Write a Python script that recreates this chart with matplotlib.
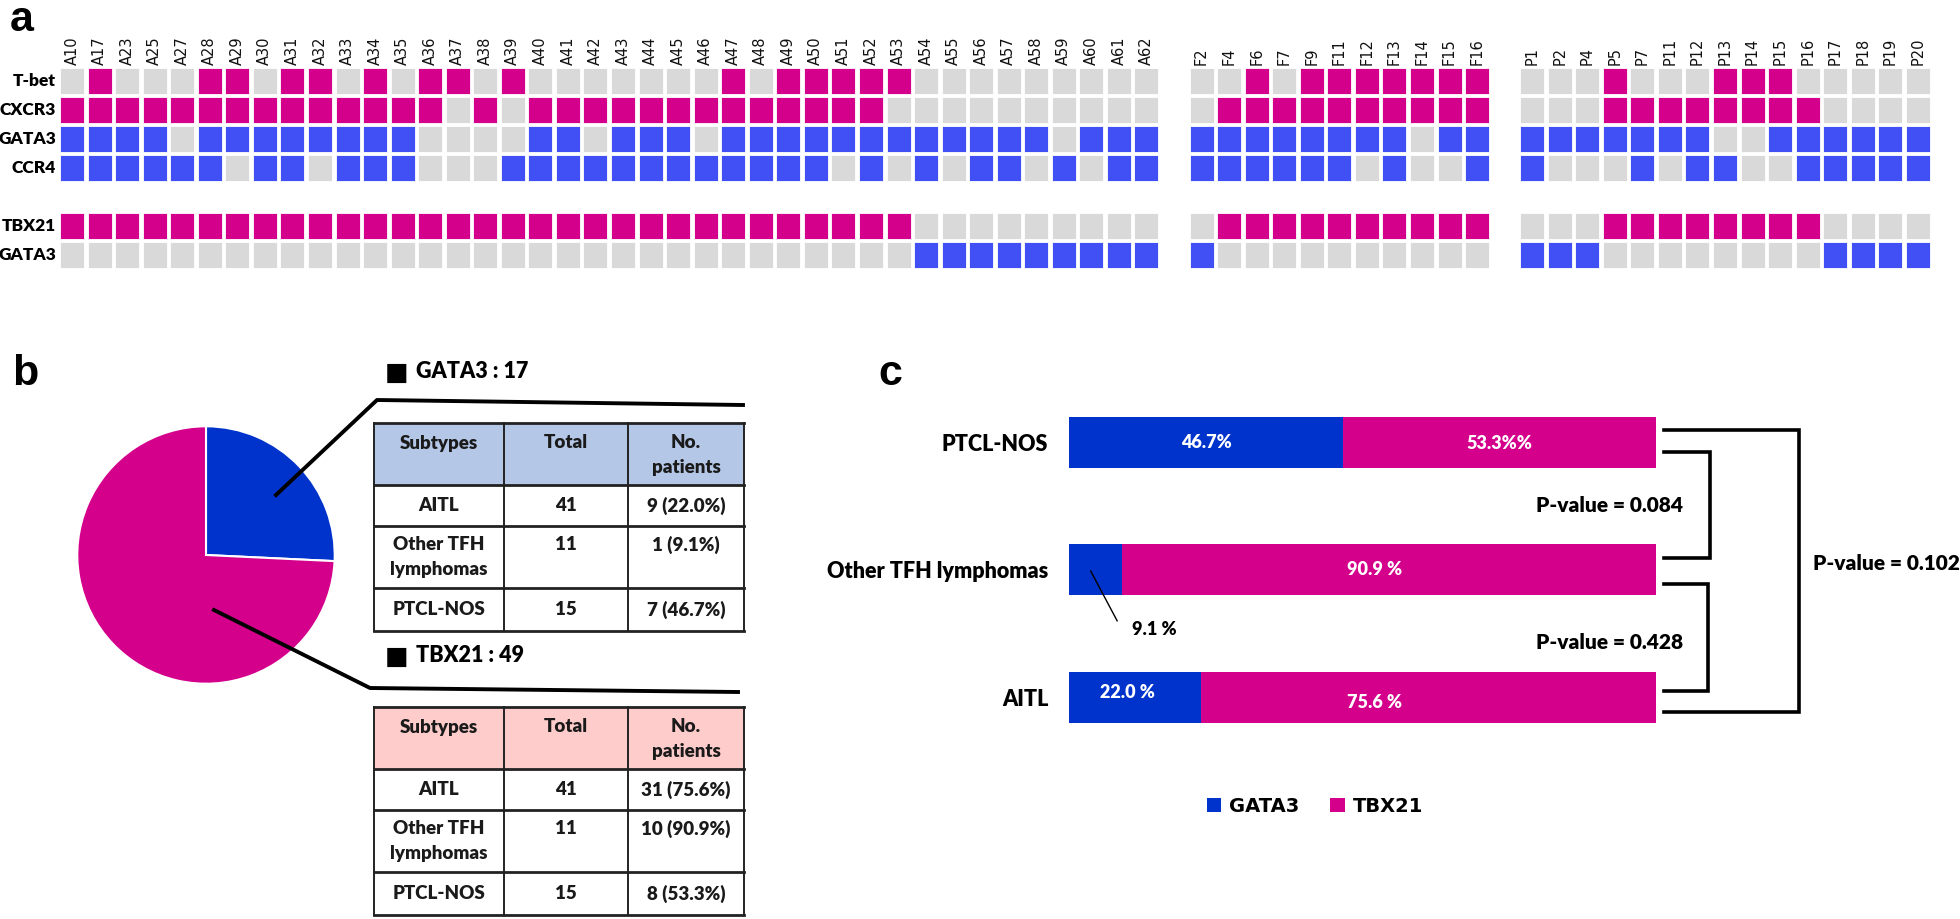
import numpy as np
import matplotlib
matplotlib.use("Agg")
import matplotlib.pyplot as plt
from matplotlib.patches import Rectangle

W, H = 1960, 919

# ---- panel a data (1 = positive) ----
aitl_ids = ["A10", "A17", "A23", "A25", "A27", "A28", "A29", "A30", "A31", "A32",
            "A33", "A34", "A35", "A36", "A37", "A38", "A39", "A40", "A41", "A42",
            "A43", "A44", "A45", "A46", "A47", "A48", "A49", "A50", "A51", "A52",
            "A53", "A54", "A55", "A56", "A57", "A58", "A59", "A60", "A61", "A62"]
tfh_ids = ["F2", "F4", "F6", "F7", "F9", "F11", "F12", "F13", "F14", "F15", "F16"]
ptcl_ids = ["P1", "P2", "P4", "P5", "P7", "P11", "P12", "P13", "P14", "P15",
            "P16", "P17", "P18", "P19", "P20"]

tbet = ([0,1,0,0,0,1,1,0,1,1, 0,1,0,1,1,0,1,0,0,0, 0,0,0,0,1,0,1,1,1,1, 1,0,0,0,0,0,0,0,0,0]
        + [0,0,1,0,1,1,1,1,1,1,1]
        + [0,0,0,1,0,0,0,1,1,1,0,0,0,0,0])
cxcr3 = ([1,1,1,1,1,1,1,1,1,1, 1,1,1,1,0,1,0,1,1,1, 1,1,1,1,1,1,1,1,1,1, 0,0,0,0,0,0,0,0,0,0]
         + [0,1,1,1,1,1,1,1,1,1,1]
         + [0,0,0,1,1,1,1,1,1,1,1,0,0,0,0])
gata3_ihc = ([1,1,1,1,0,1,1,1,1,1, 1,1,1,0,0,0,0,1,1,0, 1,1,1,0,1,1,1,1,1,1, 1,1,1,1,1,1,0,1,1,1]
             + [1,1,1,1,1,1,1,1,0,1,1]
             + [1,1,1,1,1,1,1,0,0,1,1,1,1,1,1])
ccr4 = ([1,1,1,1,1,1,0,1,1,0, 1,1,1,0,0,0,1,1,1,1, 1,1,1,1,1,1,1,1,0,1, 0,1,0,1,1,0,1,0,1,1]
        + [1,1,1,1,1,1,0,1,0,0,1]
        + [1,0,0,0,1,0,1,1,0,0,1,1,1,1,1])
tbx21_grp = ([1]*31 + [0]*9
             + [0,1,1,1,1,1,1,1,1,1,1]
             + [0,0,0,1,1,1,1,1,1,1,1,0,0,0,0])
gata3_grp = ([0]*31 + [1]*9
             + [1,0,0,0,0,0,0,0,0,0,0]
             + [1,1,1,0,0,0,0,0,0,0,0,1,1,1,1])

row_names = ["T-bet", "CXCR3", "GATA3", "CCR4", "TBX21", "GATA3"]
row_values = [tbet, cxcr3, gata3_ihc, ccr4, tbx21_grp, gata3_grp]

# ---- panel b data ----
pie_counts = [17, 49]  # GATA3, TBX21
subtypes = ["AITL", "Other TFH\nlymphomas", "PTCL-NOS"]
totals = [41, 11, 15]
gata3_patients = ["9 (22.0%)", "1 (9.1%)", "7 (46.7%)"]
tbx21_patients = ["31 (75.6%)", "10 (90.9%)", "8 (53.3%)"]

# ---- panel c data ----
bar_cats = ["AITL", "Other TFH lymphomas", "PTCL-NOS"]
gata3_pct = [22.0, 9.1, 46.7]
tbx21_pct = [75.6, 90.9, 53.3]
gata3_lbl = ["22.0 %", "9.1 %", "46.7%"]
tbx21_lbl = ["75.6 %", "90.9 %", "53.3%%"]
p_values = ["0.084", "0.428", "0.102"]

PINK = "#D4008C"
BLUE_HM = "#4150F5"
GREY = "#D9D9D9"
BLUE = "#0033CC"
LATO = ["Lato", "DejaVu Sans"]
WT = "heavy"

fig = plt.figure(figsize=(W / 100, H / 100), dpi=100)


def px_axes(x0, y0, x1, y1):
    return fig.add_axes([x0 / W, 1 - y1 / H, (x1 - x0) / W, (y1 - y0) / H])


# ================= panel a: heatmap =================
pitch_x, pitch_y = 27.55, 29.0
ha = px_axes(60, 68, 60 + 68 * pitch_x, 68 + 7 * pitch_y)
ha.set_xlim(0, 68)
ha.set_ylim(7, 0)
ha.axis("off")

cols, labels = [], []
start = 0
for ids in [aitl_ids, tfh_ids, ptcl_ids]:
    cols += list(range(start, start + len(ids)))
    labels += ids
    start += len(ids) + 1

cw, ch = 24 / pitch_x, 26 / pitch_y
row_pos = [0, 1, 2, 3, 5, 6]
row_on = [PINK, PINK, BLUE_HM, BLUE_HM, PINK, BLUE_HM]
for r, name, vals, on in zip(row_pos, row_names, row_values, row_on):
    for c, v in zip(cols, vals):
        ha.add_patch(Rectangle((c, r), cw, ch, facecolor=on if v else GREY,
                               edgecolor="white", linewidth=0.6))
    ha.text(-0.14, r + ch / 2, name, ha="right", va="center", fontsize=12.5,
            fontweight=WT, family=LATO)
for c, lab in zip(cols, labels):
    ha.text(c + cw / 2, -0.12, lab, rotation=90, ha="center", va="bottom",
            fontsize=10.5, family="DejaVu Sans", color="#111111")

# overlay for letters, leader lines and tables
ov = px_axes(0, 0, W, H)
ov.set_xlim(0, W)
ov.set_ylim(H, 0)
ov.axis("off")
ov.set_zorder(5)

for txt, x, y in [("a", 10, 31), ("b", 12, 385), ("c", 878, 385)]:
    ov.text(x, y, txt, fontsize=31, fontweight="bold", family="Liberation Sans",
            va="baseline")

# ================= panel b: pie + tables =================
pa = px_axes(76, 425, 336, 685)
pa.pie(pie_counts, colors=[BLUE, PINK], startangle=90, counterclock=False,
       wedgeprops=dict(edgecolor="white", linewidth=1.5))
pa.set_xlim(-1.01, 1.01)
pa.set_ylim(-1.01, 1.01)

ov.plot([276, 377, 743], [495, 400, 405], color="black", lw=2.8)
ov.plot([214, 370, 738], [610, 688, 692], color="black", lw=2.8)

col_edges = [374, 504, 628, 744]
row_h = [62, 41, 62, 43]
col_mid = [(a + b) / 2 for a, b in zip(col_edges[:-1], col_edges[1:])]


def draw_table(top, head_color, counts, title):
    ov.text(385, top - 50, "■", va="center", ha="left", fontsize=18,
            family="DejaVu Sans")
    ov.text(416, top - 51, title, va="center", fontsize=15.5,
            fontweight=WT, family=LATO)
    ov.add_patch(Rectangle((col_edges[0], top), col_edges[-1] - col_edges[0],
                           row_h[0], facecolor=head_color, edgecolor="none"))
    edges = np.cumsum([top] + row_h)
    for y in edges:
        ov.plot([col_edges[0], col_edges[-1]], [y, y], color="#222222", lw=2.0)
    for x in col_edges:
        ov.plot([x, x], [edges[0], edges[-1]], color="#222222", lw=1.4)
    kw = dict(ha="center", va="center", fontsize=13.5, fontweight=WT,
              family=LATO, color="#1a1a1a")
    ov.text(col_mid[0], top + 20, "Subtypes", **kw)
    ov.text(col_mid[1], top + 20, "Total", **kw)
    ov.text(col_mid[2], top + 20, "No.", **kw)
    ov.text(col_mid[2], top + 44, "patients", **kw)
    for i, (sub, tot, n) in enumerate(zip(subtypes, totals, counts)):
        rt, rb = edges[i + 1], edges[i + 2]
        lines = sub.split("\n")
        if len(lines) > 1:
            ov.text(col_mid[0], rt + 19, lines[0], **kw)
            ov.text(col_mid[0], rt + 44, lines[1], **kw)
            y = rt + 19
        else:
            y = (rt + rb) / 2
            ov.text(col_mid[0], y, sub, **kw)
        ov.text(col_mid[1], y, str(tot), **kw)
        ov.text(col_mid[2], y, n, **kw)


draw_table(423, "#B4C7E7", gata3_patients, "GATA3 : %d" % pie_counts[0])
draw_table(707, "#FFCCCC", tbx21_patients, "TBX21 : %d" % pie_counts[1])

# ================= panel c: stacked bars =================
ca = px_axes(1069, 378.25, 1656, 761.25)
ypos = np.arange(len(bar_cats))
g = np.array(gata3_pct)
t = np.array(tbx21_pct)
g_share = g / (g + t) * 100
t_share = t / (g + t) * 100
bg = ca.barh(ypos, g_share, height=0.4, color=BLUE)
bt = ca.barh(ypos, t_share, left=g_share, height=0.4, color=PINK)
ca.set_xlim(0, 100)
ca.set_ylim(-0.5, 2.5)
ca.set_yticks(ypos, labels=bar_cats)
for lab in ca.get_yticklabels():
    lab.set_fontsize(15.5)
    lab.set_fontweight(WT)
    lab.set_family(LATO)
ca.tick_params(axis="y", length=0, pad=15)
ca.set_xticks([])
for s in ca.spines.values():
    s.set_visible(False)

wk = dict(color="white", fontsize=13, fontweight=WT, family=LATO, va="center")
# label positions (layout)
ca.text(10.0, ypos[0] + 0.04, gata3_lbl[0], ha="center", **wk)
ca.text(47.3, ypos[0] - 0.04, tbx21_lbl[0], ha="left", **wk)
ca.text(47.3, ypos[1], tbx21_lbl[1], ha="left", **wk)
ca.text(g_share[2] / 2, ypos[2], gata3_lbl[2], ha="center", **wk)
ca.text(g_share[2] + t_share[2] / 2, ypos[2] - 0.01, tbx21_lbl[2], ha="center", **wk)
ca.plot([3.7, 8.2], [0.99, 0.6], color="black", lw=1, clip_on=False)
ca.text(10.8, 0.53, gata3_lbl[1], ha="left", va="center", fontsize=13,
        fontweight=WT, family=LATO)

bk = dict(color="black", lw=2.6, clip_on=False, solid_joinstyle="miter")
ca.plot([101.4, 109.2, 109.2, 101.4], [1.92, 1.92, 1.09, 1.09], **bk)
ca.plot([101.4, 108.9, 108.9, 101.4], [0.886, 0.886, 0.047, 0.047], **bk)
ca.plot([101.4, 124.3, 124.3, 101.4], [2.094, 2.094, -0.118, -0.118], **bk)
pk = dict(fontsize=15, fontweight=WT, family=LATO, va="center")
ca.text(104.6, 1.5, "P-value = " + p_values[0], ha="right", **pk)
ca.text(104.6, 0.43, "P-value = " + p_values[1], ha="right", **pk)
ca.text(126.7, 1.05, "P-value = " + p_values[2], ha="left", **pk)

fig.legend([bg, bt], ["GATA3", "TBX21"], loc="center",
           bbox_to_anchor=(1315 / W, 1 - 806 / H), ncol=2, frameon=False,
           handlelength=0.75, handleheight=0.75, handletextpad=0.4,
           columnspacing=1.6,
           prop=dict(family="DejaVu Sans", weight="bold", size=14))

fig.savefig("out.png", dpi=100)
